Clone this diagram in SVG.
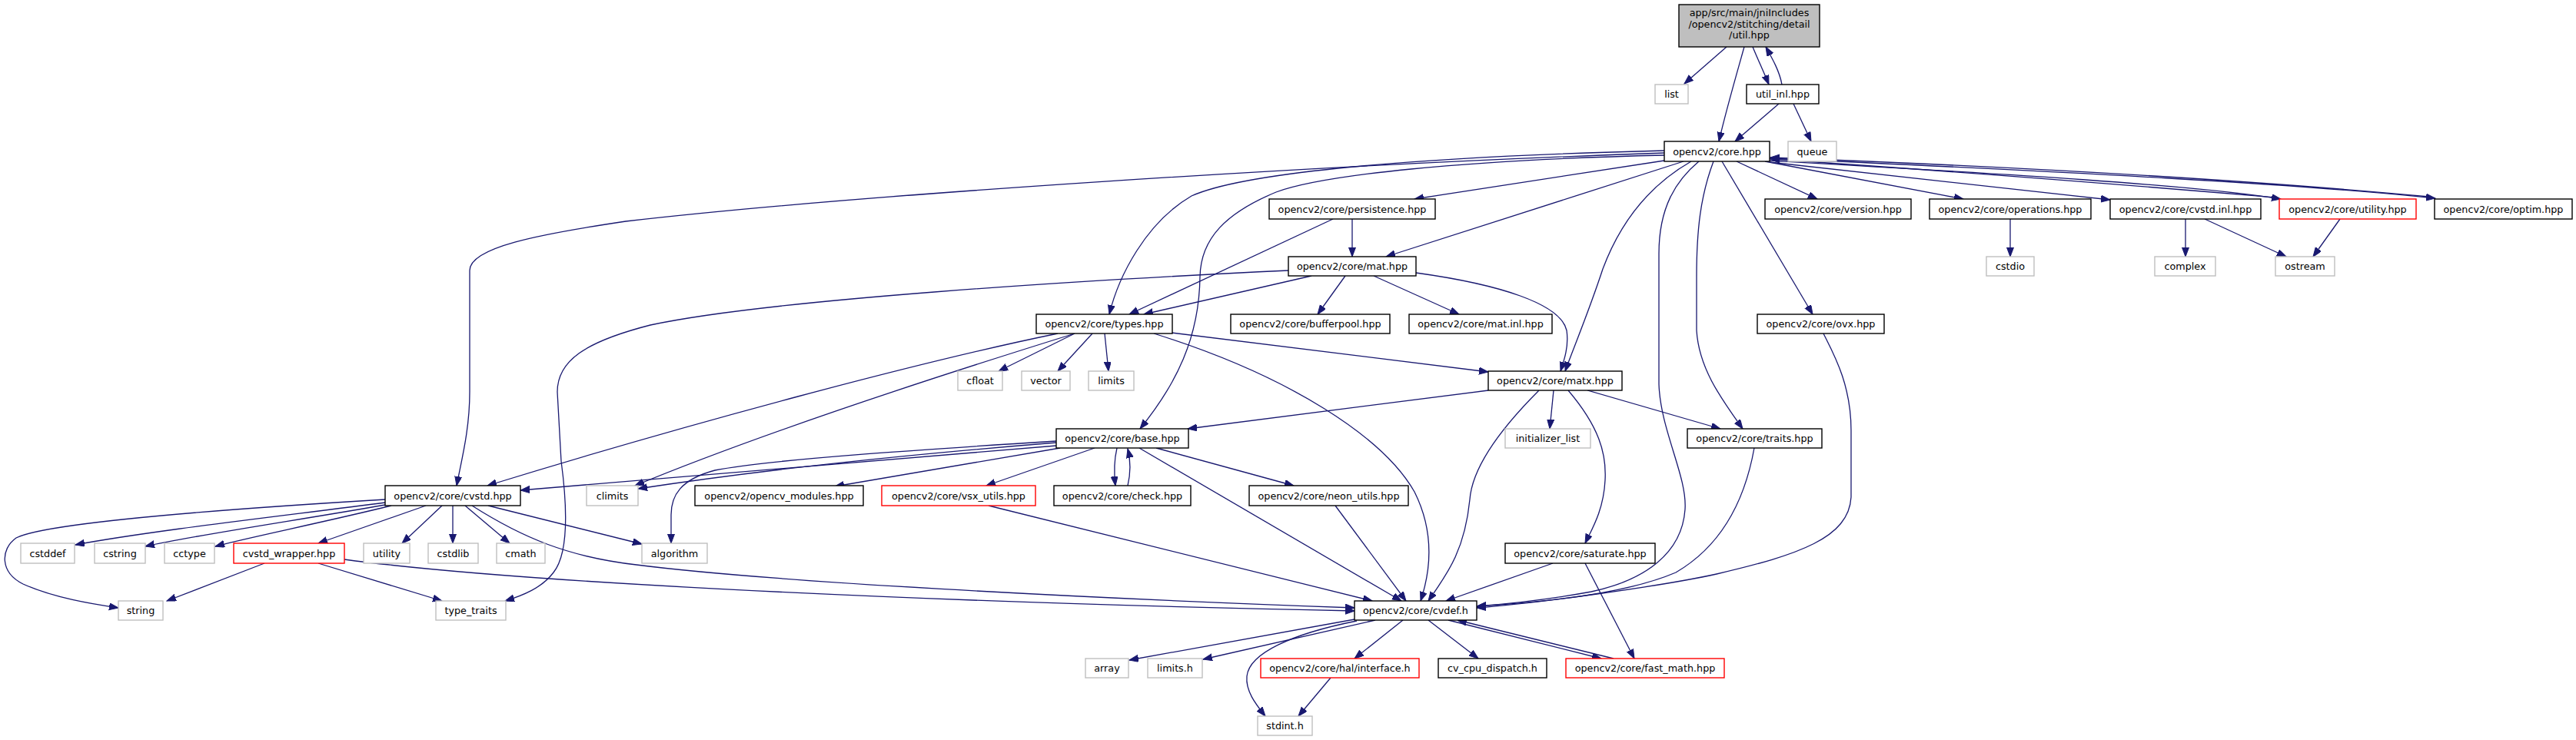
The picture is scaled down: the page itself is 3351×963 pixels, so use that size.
<svg xmlns="http://www.w3.org/2000/svg" width="3351" height="963" viewBox="0 0 3351 963">
<style>
.n rect{fill:#fff;stroke:#000;stroke-width:1.4}
.g rect{fill:#fff;stroke:#bfbfbf;stroke-width:1.4}
.r rect{fill:#fff;stroke:#ff0000;stroke-width:1.4}
.root rect{fill:#bfbfbf;stroke:#000;stroke-width:1.4}
text{font-family:"DejaVu Sans",sans-serif;font-size:12.75px;fill:#000;text-anchor:middle}
#edges path{fill:none;stroke:#191970;stroke-width:1.3;marker-end:url(#arr)}
</style>
<defs>
<marker id="arr" markerUnits="userSpaceOnUse" markerWidth="13" markerHeight="10" refX="12" refY="4.5" orient="auto">
<path d="M0,0 L12,4.5 L0,9 z" fill="#191970" stroke="#191970" stroke-width="1"/>
</marker>
</defs>
<rect x="0" y="0" width="3351" height="963" fill="#fff"/>
<g id="edges">
<path d="M2246,61 L2191,109"/>
<path d="M2269,61 C2258,100 2245,145 2236,184"/>
<path d="M2280,61 C2287,78 2295,95 2301,110"/>
<path d="M2318,110 C2315,93 2306,77 2297,61"/>
<path d="M2314,135 L2257,184"/>
<path d="M2333,135 L2356,184"/>
<path d="M2165,199 C1700,215 1100,255 814,288 C700,305 611,322 611,352 L611,510 C611,560 600,600 594,632"/>
<path d="M2165,196 C1800,205 1610,228 1550,255 C1490,290 1455,360 1443,409"/>
<path d="M2165,202 C1900,208 1720,228 1660,250 C1595,277 1562,310 1561,360 C1560,440 1530,500 1483,558"/>
<path d="M2165,209 L1840,259"/>
<path d="M2190,210 L1803,334"/>
<path d="M2200,210 C2130,250 2100,310 2085,350 C2067,405 2048,450 2036,483"/>
<path d="M2210,210 C2180,235 2158,270 2158,330 L2158,500 C2160,560 2195,620 2192,663 C2188,720 2140,755 2070,770 C2010,781 1960,786 1921,789"/>
<path d="M2229,210 C2212,255 2207,300 2207,360 L2207,430 C2210,480 2240,520 2267,558"/>
<path d="M2240,210 L2358,409"/>
<path d="M2259,210 L2364,259"/>
<path d="M2296,210 L2554,259"/>
<path d="M2302,211 L2745,260"/>
<path d="M2302,209 C2600,226 2850,240 2967,259"/>
<path d="M2960,257 C2700,235 2500,220 2303,207"/>
<path d="M2302,206 C2700,224 3000,240 3168,258"/>
<path d="M3160,256 C2900,232 2600,216 2303,205"/>
<path d="M1759,285 L1759,334"/>
<path d="M1734,285 L1469,409"/>
<path d="M1706,359 L1488,409"/>
<path d="M1750,359 L1714,409"/>
<path d="M1787,359 L1898,409"/>
<path d="M1842,355 C1950,370 2030,395 2038,430 C2041,450 2035,468 2030,483"/>
<path d="M1676,352 C1400,365 1000,390 846,423 C760,445 725,470 725,510 L730,600 C738,660 740,720 720,745 C705,765 680,775 657,782"/>
<path d="M1376,434 C1200,470 900,550 634,632"/>
<path d="M1398,434 C1250,480 1000,560 826,632"/>
<path d="M1398,434 L1299,483"/>
<path d="M1421,434 L1376,483"/>
<path d="M1437,434 L1442,483"/>
<path d="M1524,433 L1936,484"/>
<path d="M1501,434 C1680,490 1800,570 1840,640 C1865,690 1862,740 1848,782"/>
<path d="M1936,508 L1545,558"/>
<path d="M2002,508 C1950,560 1915,610 1912,650 C1905,720 1880,750 1858,782"/>
<path d="M2021,508 L2016,558"/>
<path d="M2040,508 C2080,555 2090,590 2088,625 C2086,665 2070,690 2062,707"/>
<path d="M2065,508 L2238,558"/>
<path d="M2282,583 C2270,650 2240,710 2180,745 C2110,775 1990,785 1921,789"/>
<path d="M2372,434 C2385,460 2408,500 2408,560 L2408,647 C2405,700 2340,722 2233,747 C2160,763 2000,785 1921,791"/>
<path d="M1374,580 L677,638"/>
<path d="M1374,576 C1200,590 1000,610 830,636"/>
<path d="M1374,574 C1200,585 1000,598 930,612 C885,624 873,645 873,670 L873,707"/>
<path d="M1379,583 L1086,633"/>
<path d="M1424,583 L1283,632"/>
<path d="M1453,583 C1449,600 1449,615 1451,632"/>
<path d="M1467,632 C1471,615 1471,600 1467,584"/>
<path d="M1504,583 L1683,632"/>
<path d="M1482,583 L1823,782"/>
<path d="M1286,658 L1785,782"/>
<path d="M1737,658 L1829,782"/>
<path d="M2020,733 L1881,782"/>
<path d="M2062,733 L2126,857"/>
<path d="M501,654 C380,670 200,690 98,709"/>
<path d="M501,657 C400,675 250,697 189,711"/>
<path d="M509,658 C420,680 320,700 280,711"/>
<path d="M554,658 L414,707"/>
<path d="M575,658 L523,707"/>
<path d="M589,658 L589,707"/>
<path d="M605,658 L663,707"/>
<path d="M635,658 L835,708"/>
<path d="M501,650 C300,662 60,680 21,700 C0,715 0,745 30,760 C70,778 120,786 154,791"/>
<path d="M614,658 C680,700 740,725 828,735 C1000,757 1400,778 1762,791"/>
<path d="M344,733 L217,782"/>
<path d="M414,733 L575,782"/>
<path d="M448,728 C700,762 1300,786 1762,795"/>
<path d="M1762,806 C1650,826 1540,846 1469,859"/>
<path d="M1789,807 L1565,858"/>
<path d="M1765,808 C1680,825 1625,850 1622,880 C1620,900 1635,918 1646,932"/>
<path d="M1825,807 L1762,857"/>
<path d="M1858,807 L1923,857"/>
<path d="M1884,807 L2083,857"/>
<path d="M2099,857 L1896,807"/>
<path d="M1731,882 L1689,932"/>
<path d="M2843,285 L2843,334"/>
<path d="M2868,285 L2974,334"/>
<path d="M3044,285 L3009,334"/>
<path d="M2615,285 L2615,334"/>
</g>
<g id="util_hpp" class="root"><rect x="2184" y="6" width="183" height="55"/><text x="2275.5" y="21">app/src/main/jniIncludes</text><text x="2275.5" y="35.5">/opencv2/stitching/detail</text><text x="2275.5" y="50">/util.hpp</text></g>
<g id="list" class="g"><rect x="2153" y="110" width="43" height="25"/><text x="2174.5" y="127">list</text></g>
<g id="util_inl_hpp" class="n"><rect x="2272" y="110" width="94" height="25"/><text x="2319" y="127">util_inl.hpp</text></g>
<g id="core_hpp" class="n"><rect x="2165" y="184" width="137" height="26"/><text x="2233.5" y="201.5">opencv2/core.hpp</text></g>
<g id="queue" class="g"><rect x="2326" y="184" width="63" height="26"/><text x="2357.5" y="201.5">queue</text></g>
<g id="persistence_hpp" class="n"><rect x="1651" y="259" width="216" height="26"/><text x="1759" y="276.5">opencv2/core/persistence.hpp</text></g>
<g id="version_hpp" class="n"><rect x="2296" y="259" width="190" height="26"/><text x="2391" y="276.5">opencv2/core/version.hpp</text></g>
<g id="operations_hpp" class="n"><rect x="2510" y="259" width="210" height="26"/><text x="2615" y="276.5">opencv2/core/operations.hpp</text></g>
<g id="cvstd_inl_hpp" class="n"><rect x="2745" y="259" width="196" height="26"/><text x="2843" y="276.5">opencv2/core/cvstd.inl.hpp</text></g>
<g id="utility_hpp" class="r"><rect x="2965" y="259" width="178" height="26"/><text x="3054" y="276.5">opencv2/core/utility.hpp</text></g>
<g id="optim_hpp" class="n"><rect x="3167" y="259" width="179" height="26"/><text x="3256.5" y="276.5">opencv2/core/optim.hpp</text></g>
<g id="mat_hpp" class="n"><rect x="1676" y="334" width="166" height="25"/><text x="1759" y="351">opencv2/core/mat.hpp</text></g>
<g id="cstdio" class="g"><rect x="2584" y="334" width="62" height="25"/><text x="2615" y="351">cstdio</text></g>
<g id="complex" class="g"><rect x="2803" y="334" width="79" height="25"/><text x="2842.5" y="351">complex</text></g>
<g id="ostream" class="g"><rect x="2960" y="334" width="77" height="25"/><text x="2998.5" y="351">ostream</text></g>
<g id="types_hpp" class="n"><rect x="1348" y="409" width="177" height="25"/><text x="1436.5" y="426">opencv2/core/types.hpp</text></g>
<g id="bufferpool_hpp" class="n"><rect x="1601" y="409" width="207" height="25"/><text x="1704.5" y="426">opencv2/core/bufferpool.hpp</text></g>
<g id="mat_inl_hpp" class="n"><rect x="1833" y="409" width="186" height="25"/><text x="1926" y="426">opencv2/core/mat.inl.hpp</text></g>
<g id="ovx_hpp" class="n"><rect x="2286" y="409" width="165" height="25"/><text x="2368.5" y="426">opencv2/core/ovx.hpp</text></g>
<g id="cfloat" class="g"><rect x="1246" y="483" width="58" height="25"/><text x="1275" y="500">cfloat</text></g>
<g id="vector" class="g"><rect x="1329" y="483" width="63" height="25"/><text x="1360.5" y="500">vector</text></g>
<g id="limits" class="g"><rect x="1416" y="483" width="59" height="25"/><text x="1445.5" y="500">limits</text></g>
<g id="matx_hpp" class="n"><rect x="1936" y="483" width="174" height="25"/><text x="2023" y="500">opencv2/core/matx.hpp</text></g>
<g id="base_hpp" class="n"><rect x="1374" y="558" width="172" height="25"/><text x="1460" y="575">opencv2/core/base.hpp</text></g>
<g id="initializer_list" class="g"><rect x="1958" y="558" width="111" height="25"/><text x="2013.5" y="575">initializer_list</text></g>
<g id="traits_hpp" class="n"><rect x="2195" y="558" width="175" height="25"/><text x="2282.5" y="575">opencv2/core/traits.hpp</text></g>
<g id="cvstd_hpp" class="n"><rect x="501" y="632" width="176" height="26"/><text x="589" y="649.5">opencv2/core/cvstd.hpp</text></g>
<g id="climits" class="g"><rect x="763" y="632" width="67" height="26"/><text x="796.5" y="649.5">climits</text></g>
<g id="opencv_modules_hpp" class="n"><rect x="904" y="632" width="219" height="26"/><text x="1013.5" y="649.5">opencv2/opencv_modules.hpp</text></g>
<g id="vsx_utils_hpp" class="r"><rect x="1147" y="632" width="200" height="26"/><text x="1247" y="649.5">opencv2/core/vsx_utils.hpp</text></g>
<g id="check_hpp" class="n"><rect x="1371" y="632" width="178" height="26"/><text x="1460" y="649.5">opencv2/core/check.hpp</text></g>
<g id="neon_utils_hpp" class="n"><rect x="1625" y="632" width="207" height="26"/><text x="1728.5" y="649.5">opencv2/core/neon_utils.hpp</text></g>
<g id="cstddef" class="g"><rect x="27" y="707" width="70" height="26"/><text x="62" y="724.5">cstddef</text></g>
<g id="cstring" class="g"><rect x="123" y="707" width="66" height="26"/><text x="156" y="724.5">cstring</text></g>
<g id="cctype" class="g"><rect x="214" y="707" width="65" height="26"/><text x="246.5" y="724.5">cctype</text></g>
<g id="cvstd_wrapper_hpp" class="r"><rect x="304" y="707" width="144" height="26"/><text x="376" y="724.5">cvstd_wrapper.hpp</text></g>
<g id="utility" class="g"><rect x="473" y="707" width="60" height="26"/><text x="503" y="724.5">utility</text></g>
<g id="cstdlib" class="g"><rect x="557" y="707" width="65" height="26"/><text x="589.5" y="724.5">cstdlib</text></g>
<g id="cmath" class="g"><rect x="646" y="707" width="63" height="26"/><text x="677.5" y="724.5">cmath</text></g>
<g id="algorithm" class="g"><rect x="835" y="707" width="85" height="26"/><text x="877.5" y="724.5">algorithm</text></g>
<g id="saturate_hpp" class="n"><rect x="1958" y="707" width="195" height="26"/><text x="2055.5" y="724.5">opencv2/core/saturate.hpp</text></g>
<g id="string" class="g"><rect x="154" y="782" width="58" height="25"/><text x="183" y="799">string</text></g>
<g id="type_traits" class="g"><rect x="567" y="782" width="91" height="25"/><text x="612.5" y="799">type_traits</text></g>
<g id="cvdef_h" class="n"><rect x="1762" y="782" width="159" height="25"/><text x="1841.5" y="799">opencv2/core/cvdef.h</text></g>
<g id="array" class="g"><rect x="1412" y="857" width="56" height="25"/><text x="1440" y="874">array</text></g>
<g id="limits_h" class="g"><rect x="1493" y="857" width="71" height="25"/><text x="1528.5" y="874">limits.h</text></g>
<g id="interface_h" class="r"><rect x="1640" y="857" width="206" height="25"/><text x="1743" y="874">opencv2/core/hal/interface.h</text></g>
<g id="cv_cpu_dispatch_h" class="n"><rect x="1871" y="857" width="141" height="25"/><text x="1941.5" y="874">cv_cpu_dispatch.h</text></g>
<g id="fast_math_hpp" class="r"><rect x="2037" y="857" width="206" height="25"/><text x="2140" y="874">opencv2/core/fast_math.hpp</text></g>
<g id="stdint_h" class="g"><rect x="1636" y="932" width="71" height="25"/><text x="1671.5" y="949">stdint.h</text></g>
</svg>
